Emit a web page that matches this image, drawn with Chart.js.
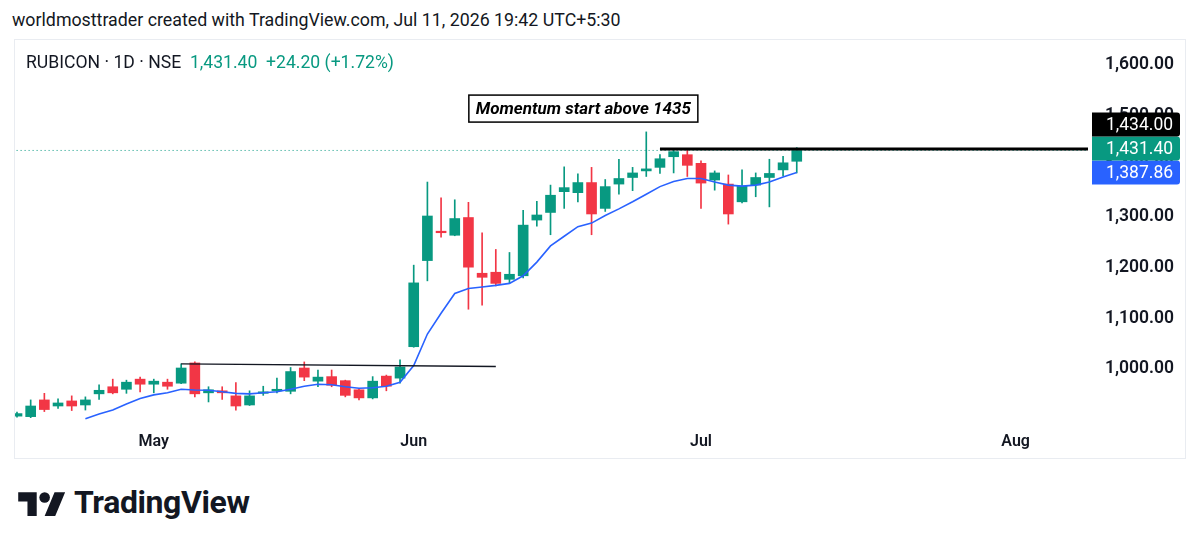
<!DOCTYPE html>
<html>
<head>
<meta charset="utf-8">
<script src="https://cdn.jsdelivr.net/npm/chart.js@4.4.1/dist/chart.umd.min.js"></script>
<style>
  html, body { margin: 0; padding: 0; background: #fff; }
  body { width: 1200px; height: 548px; position: relative; overflow: hidden;
         font-family: Roboto, "Noto Sans", sans-serif; color: #131722; }
  .top-note { position: absolute; left: 12px; top: 9px; font-size: 17.8px; line-height: 22px; white-space: nowrap; }
  .frame { position: absolute; left: 14px; top: 39px; width: 1172px; height: 420px;
           box-sizing: border-box; border: 1px solid #e9ecf1; }
  #chart { position: absolute; left: 14px; top: 39px; }
  .legend { position: absolute; left: 26px; top: 51px; font-size: 17.6px; line-height: 22px; white-space: nowrap; }
  .legend .up { color: #089981; }
  .logo-mark { position: absolute; left: 18px; top: 487px; }
  .logo-text { position: absolute; left: 74px; top: 484px; font-size: 32px; line-height: 36px;
               font-weight: 700; letter-spacing: -0.4px; color: #131722; }
</style>
</head>
<body>
<div class="top-note">worldmosttrader created with TradingView.com, Jul 11, 2026 19:42 UTC+5:30</div>
<div class="frame"></div>
<canvas id="chart" width="1172" height="420"></canvas>
<div class="legend">RUBICON · 1D · NSE&nbsp; <span class="up">1,431.40&nbsp; +24.20 (+1.72%)</span></div>
<svg class="logo-mark" width="48" height="37" viewBox="0 0 36 28">
  <path d="M14 22H7V11H0V4h14v18zM28 22h-8l7.5-18h8L28 22z" fill="#131722"/>
  <circle cx="20" cy="8" r="4" fill="#131722"/>
</svg>
<div class="logo-text">TradingView</div>
<script>
// daily candles, index 0 = first visible session (late April)
const opens  = [907, 906, 939, 927, 937, 929, 951, 965, 960, 980,
                970, 974, 972, 1012, 953, 957, 947, 929, 952, 957,
                956, 1002, 976, 985, 977, 959, 943, 986, 982, 1044,
                1214, 1272, 1264, 1299, 1189, 1191, 1177, 1184, 1294, 1309,
                1350, 1348, 1368, 1317, 1365, 1378, 1391, 1398, 1419, 1423,
                1406, 1373, 1365, 1330, 1363, 1378, 1393, 1410];
const highs  = [915, 939, 952, 941, 947, 945, 969, 980, 978, 984,
                980, 980, 1010, 1014, 965, 965, 973, 957, 966, 982,
                1003, 1014, 998, 998, 978, 961, 985, 988, 1018, 1205,
                1369, 1338, 1334, 1329, 1269, 1236, 1230, 1313, 1331, 1363,
                1399, 1385, 1398, 1374, 1414, 1398, 1468, 1423, 1434, 1435,
                1411, 1391, 1383, 1393, 1387, 1414, 1420, 1437];
const lows   = [905, 904, 916, 922, 918, 919, 940, 951, 952, 955,
                953, 960, 971, 945, 935, 940, 919, 928, 948, 953,
                951, 977, 965, 965, 945, 939, 941, 957, 972, 1043,
                1174, 1260, 1263, 1118, 1126, 1164, 1170, 1180, 1282, 1265,
                1317, 1330, 1265, 1311, 1345, 1352, 1380, 1386, 1387, 1380,
                1317, 1353, 1286, 1328, 1340, 1320, 1381, 1387];
const closes = [912, 927, 920, 933, 927, 939, 958, 953, 974, 970,
                976, 966, 1002, 951, 959, 953, 927, 947, 955, 960,
                995, 984, 984, 968, 948, 943, 976, 966, 1004, 1170,
                1302, 1269, 1297, 1201, 1181, 1169, 1187, 1284, 1304, 1343,
                1358, 1368, 1306, 1360, 1376, 1387, 1395, 1415, 1429, 1402,
                1367, 1387, 1306, 1361, 1378, 1386, 1407, 1431.4];
const maLine = [null, null, null, null, null, 902, 911, 919, 931, 942,
                949, 953, 960, 958.6, 958, 955, 952, 951, 953, 955,
                960, 966, 970, 969, 965, 962, 963, 966, 974, 1007,
                1069, 1110, 1149, 1159, 1162, 1165, 1169, 1184, 1211, 1243,
                1262, 1281, 1288, 1303, 1316, 1330, 1345, 1360, 1370, 1376,
                1376, 1369, 1363, 1361, 1363, 1369, 1379, 1387.86];

const monthTicks = [10, 29, 50, 73];
const monthNames = ["May", "Jun", "Jul", "Aug"];
const priceTicks = [1000, 1100, 1200, 1300, 1400, 1500, 1600];

// drawn lines: [index, price] end points
const baseLine   = [[12, 1010], [35, 1005]];
const resistLine = [[47, 1434], [95, 1434]];
const lastPrice  = 1431.4;
const maLast     = 1387.86;
const noteText   = "Momentum start above 1435";
const noteAt     = [41.4, 1514];

const UP = "#089981", DOWN = "#F23645", MA = "#2962FF";

function fmtPrice(v) {
  return new Intl.NumberFormat("en-US", { minimumFractionDigits: 2, maximumFractionDigits: 2 }).format(v);
}

function noPadding(s) {
  s.paddingTop = 0; s.paddingBottom = 0; s.paddingLeft = 0; s.paddingRight = 0;
}

const candleColors = opens.map((o, i) => closes[i] >= o ? UP : DOWN);
const bodies = opens.map((o, i) => ({ x: i, y: [o, closes[i]] }));
const wicks  = opens.map((o, i) => ({ x: i, y: [lows[i], highs[i]] }));
const maPts  = maLine.map((v, i) => v == null ? null : { x: i, y: v }).filter(Boolean);

const overlay = {
  id: "overlay",
  afterDraw(chart) {
    const { ctx, scales: { x, y } } = chart;
    ctx.save();

    // text note
    ctx.font = "italic bold 17px Roboto";
    const tw = ctx.measureText(noteText).width;
    const nx = x.getPixelForValue(noteAt[0]), ny = y.getPixelForValue(noteAt[1]);
    const bw = tw + 14, bh = 27;
    ctx.fillStyle = "#fff";
    ctx.fillRect(nx - bw / 2, ny - bh / 2, bw, bh);
    ctx.strokeStyle = "#000";
    ctx.lineWidth = 1.5;
    ctx.strokeRect(nx - bw / 2, ny - bh / 2, bw, bh);
    ctx.fillStyle = "#000";
    ctx.textAlign = "center";
    ctx.textBaseline = "middle";
    ctx.fillText(noteText, nx, ny + 1);

    // price tags on the axis, pushed up when they overlap
    const tags = [
      { v: maLast, bg: MA },
      { v: lastPrice, bg: UP },
      { v: resistLine[0][1], bg: "#000" }
    ];
    const h = 24;
    let prev = null;
    tags.forEach(t => {
      let cy = y.getPixelForValue(t.v);
      if (prev !== null && cy > prev - h) cy = prev - h;
      prev = cy;
      t.cy = cy;
    });
    const left = chart.chartArea.right + 4, right = left + 88;
    ctx.font = "17.5px Roboto";
    ctx.textAlign = "left";
    tags.forEach(t => {
      ctx.fillStyle = t.bg;
      ctx.beginPath();
      ctx.roundRect(left, t.cy - h / 2, right - left, h, [0, 3, 3, 0]);
      ctx.fill();
      ctx.fillStyle = "#fff";
      ctx.fillText(fmtPrice(t.v), left + 14, t.cy + 1);
    });
    ctx.restore();
  }
};

new Chart(document.getElementById("chart").getContext("2d"), {
  type: "bar",
  data: {
    datasets: [
      { type: "line", data: baseLine.map(p => ({ x: p[0], y: p[1] })), borderColor: "#131722",
        borderWidth: 1.3, pointRadius: 0, order: 0 },
      { type: "line", data: resistLine.map(p => ({ x: p[0], y: p[1] })), borderColor: "#000",
        borderWidth: 3, pointRadius: 0, order: 0 },
      { type: "line", data: maPts, borderColor: MA, borderWidth: 1.6, pointRadius: 0,
        tension: 0, order: 1 },
      { data: bodies, backgroundColor: candleColors, barThickness: 10, minBarLength: 1,
        grouped: false, order: 2 },
      { data: wicks, backgroundColor: candleColors, barThickness: 1, grouped: false, order: 3 },
      { type: "line", data: [{ x: -5, y: lastPrice }, { x: 95, y: lastPrice }], borderColor: UP,
        borderWidth: 1, borderDash: [1, 3], pointRadius: 0, order: 4 }
    ]
  },
  options: {
    responsive: false,
    animation: false,
    layout: { padding: { top: 2, left: 1, right: 0, bottom: 0 } },
    plugins: { legend: { display: false }, tooltip: { enabled: false } },
    scales: {
      x: {
        type: "linear", min: -0.146, max: 78.29, offset: false,
        grid: { display: false, drawTicks: false, offset: false }, border: { display: false },
        afterBuildTicks: s => { s.ticks = monthTicks.map(v => ({ value: v })); },
        afterFit: s => { s.height = 34; noPadding(s); },
        ticks: {
          color: "#131722", font: { family: "Roboto", size: 16, weight: "600" }, padding: 7,
          maxRotation: 0, autoSkip: false,
          callback: v => monthNames[monthTicks.indexOf(v)] || ""
        }
      },
      y: {
        position: "right", min: 889.5, max: 1647.4,
        grid: { display: false, drawTicks: false }, border: { display: false },
        afterBuildTicks: s => { s.ticks = priceTicks.map(v => ({ value: v })); },
        afterFit: s => { s.width = 98; noPadding(s); },
        ticks: {
          color: "#131722", font: { family: "Roboto", size: 17.5, weight: "600" }, padding: 17,
          callback: v => fmtPrice(v)
        }
      }
    }
  },
  plugins: [overlay]
});
</script>
</body>
</html>
